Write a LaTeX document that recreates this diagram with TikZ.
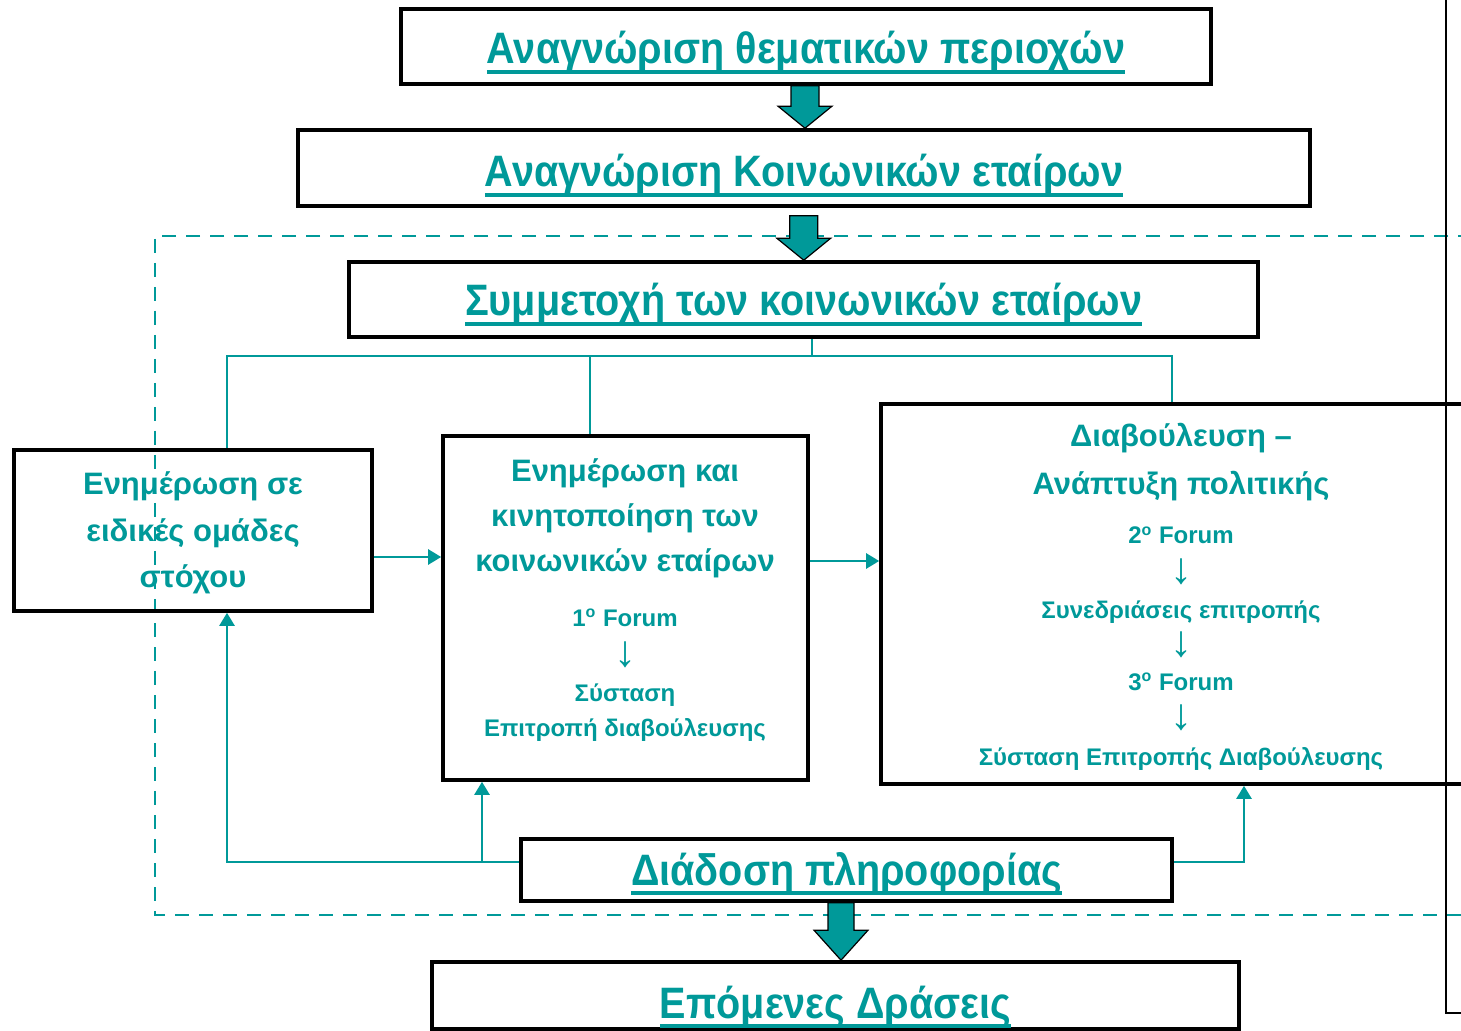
\documentclass[tikz,border=0pt]{standalone}
\usepackage{fontspec}
\setmainfont{Liberation Sans}
\newfontfamily\titlefont{Liberation Sans}[FakeStretch=0.9]
\usetikzlibrary{arrows.meta,calc}
\definecolor{tealc}{RGB}{0,153,153}
\newlength\ulwidth
\newcommand\ulx[1]{\settowidth\ulwidth{#1}\rlap{\rule[-5pt]{\ulwidth}{2pt}}#1}
\newcommand\blockarrow[5]{% source, target, start offset, head length, shaft half width
  \draw[blockarr] let \p1=(#1.south), \p2=(#2.north), \n1={(\x1+\x2)/2} in
  (\n1-#5,\y1-#3) -- (\n1-#5,\y2+#4) -- (\n1-13.5pt,\y2+#4) -- (\n1,\y2)
  -- (\n1+13.5pt,\y2+#4) -- (\n1+#5,\y2+#4) -- (\n1+#5,\y1-#3) -- cycle;}
\begin{document}
\begin{tikzpicture}[x=0.5pt,y=-0.5pt,
  box/.style={draw=black,line width=1.8pt,inner sep=0pt,rectangle},
  titlebox/.style={box,text=tealc,font=\titlefont\bfseries\fontsize{22}{26}\selectfont,text depth=0pt},
  bodytxt/.style={text=tealc,font=\bfseries\fontsize{15.5}{18}\selectfont,anchor=base,inner sep=0pt},
  smalltxt/.style={text=tealc,font=\bfseries\fontsize{12}{14}\selectfont,anchor=base,inner sep=0pt},
  arrtxt/.style={text=tealc,font=\mdseries\fontsize{22}{24}\selectfont,anchor=base,inner sep=0pt},
  conn/.style={draw=tealc,line width=1.2pt},
  conntip/.style={conn,-{Triangle[length=6.5pt,width=7.5pt]}},
  dashframe/.style={draw=tealc,line width=1.3pt,dash pattern=on 7pt off 5pt},
  blockarr/.style={draw=black,line width=0.6pt,fill=tealc,line join=miter}]
\useasboundingbox (0,0) rectangle (1461,1031);

% dashed frame (runs off the right edge)
\draw[dashframe] (1520,236) -- (155,236) -- (155,915) -- (1520,915);

% title boxes
\node[titlebox,minimum width=405pt,minimum height=37.5pt,text height=17.5pt] (b1) at (806,46.5) {\ulx{Αναγνώριση θεματικών περιοχών}};
\node[titlebox,minimum width=506pt,minimum height=38pt,text height=19pt] (b2) at (804,168) {\ulx{Αναγνώριση Κοινωνικών εταίρων}};
\node[titlebox,minimum width=454.5pt,minimum height=37.5pt,text height=16.5pt] (b3) at (803.5,299.5) {\ulx{Συμμετοχή των κοινωνικών εταίρων}};
\node[titlebox,minimum width=325.5pt,minimum height=31pt,text height=15pt] (db) at (846.5,870) {\ulx{Διάδοση πληροφορίας}};
\node[titlebox,minimum width=403.5pt,minimum height=33.5pt,text height=22.5pt] (nb) at (835.5,995.5) {\ulx{Επόμενες Δράσεις}};

% content boxes
\node[box,minimum width=179pt,minimum height=80.5pt] (lb) at (193,530.5) {};
\node[box,minimum width=182.5pt,minimum height=172pt] (mb) at (625.5,608) {};
\node[box,minimum width=300pt,minimum height=190pt] (rb) at (1181,594) {};

% right black line
\coordinate (rl1) at (1446,0);
\coordinate (rl2) at (1446,1013);
\coordinate (rl3) at (1475,1013);
\draw[line width=1pt] (rl1) -- (rl2) -- (rl3);

% left box text
\node[bodytxt] (lt1) at (193,495) {Ενημέρωση σε};
\node[bodytxt] (lt2) at (193,542) {ειδικές ομάδες};
\node[bodytxt] (lt3) at (193,588) {στόχου};

% middle box text
\node[bodytxt] (mt1) at (625,482) {Ενημέρωση και};
\node[bodytxt] (mt2) at (625,527) {κινητοποίηση των};
\node[bodytxt] (mt3) at (625,572) {κοινωνικών εταίρων};
\node[smalltxt] (mt4) at (625,626) {1\textsuperscript{o} Forum};
\node[arrtxt] (mt5) at (625,666) {↓};
\node[smalltxt] (mt6) at (625,701) {Σύσταση};
\node[smalltxt] (mt7) at (625,736) {Επιτροπή διαβούλευσης};

% right box text
\node[bodytxt] (rt1) at (1181,447) {Διαβούλευση –};
\node[bodytxt] (rt2) at (1181,495) {Ανάπτυξη πολιτικής};
\node[smalltxt] (rt3) at (1181,544) {2\textsuperscript{o} Forum};
\node[arrtxt] (rt4) at (1181,583) {↓};
\node[smalltxt] (rt5) at (1181,618) {Συνεδριάσεις επιτροπής};
\node[arrtxt] (rt6) at (1181,656) {↓};
\node[smalltxt] (rt7) at (1181,690) {3\textsuperscript{o} Forum};
\node[arrtxt] (rt8) at (1181,729) {↓};
\node[smalltxt] (rt9) at (1181,765) {Σύσταση Επιτροπής Διαβούλευσης};

% tree from b3
\coordinate (tj) at (812,356);
\coordinate (tl) at (227,356);
\coordinate (tm) at (590,356);
\coordinate (tr) at (1172,356);
\draw[conn] (tj |- b3.south) -- (tj);
\draw[conn] (tl |- lb.north) -- (tl) -- (tr) -- (tr |- rb.north);
\draw[conn] (tm) -- (tm |- mb.north);

% horizontal arrows
\coordinate (h1) at (0,557);
\coordinate (h2) at (0,561);
\draw[conntip] (lb.east |- h1) -- (mb.west |- h1);
\draw[conntip] (mb.east |- h2) -- (rb.west |- h2);

% bottom feedback arrows
\path (db.west) ++(0,-8) coordinate (dl);
\path (db.east) ++(0,-8) coordinate (dr);
\coordinate (fl) at (227,862);
\coordinate (fm) at (482,862);
\coordinate (fr) at (1244,862);
\draw[conntip] (dl) -- (fl) -- (fl |- lb.south);
\draw[conntip] (fm) -- (fm |- mb.south);
\draw[conntip] (dr) -- (fr) -- (fr |- rb.south);

% block arrows
\blockarrow{b1}{b2}{0pt}{11pt}{7pt}
\blockarrow{b2}{b3}{4pt}{11pt}{7pt}
\blockarrow{db}{nb}{0pt}{15pt}{6.5pt}
\end{tikzpicture}
\end{document}
